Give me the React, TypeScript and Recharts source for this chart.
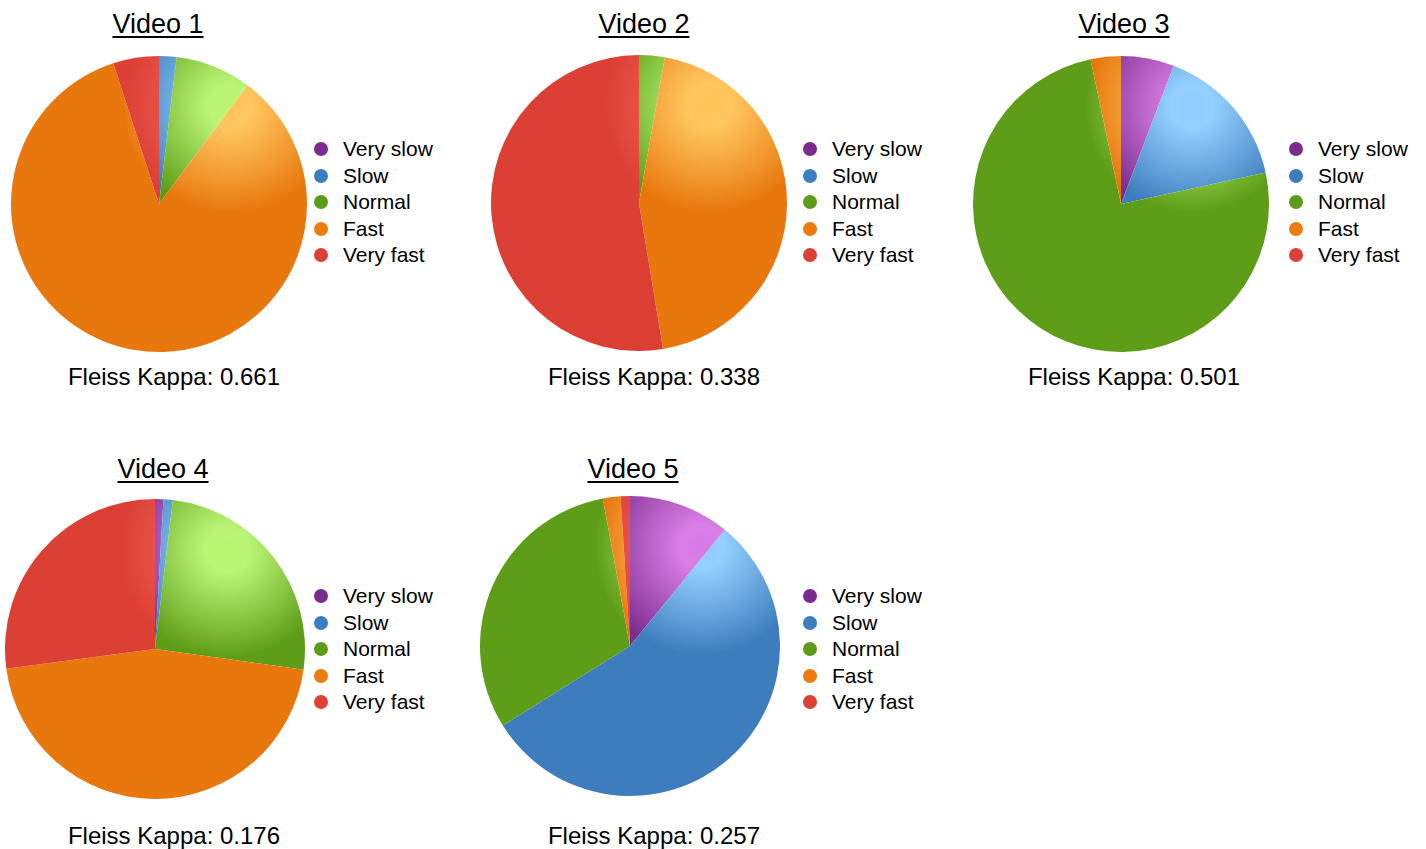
import React from 'react';
import { PieChart, Pie, Cell } from 'recharts';

// rating categories, in drawing order (clockwise from 12 o'clock)
const CATEGORIES = ['Very slow', 'Slow', 'Normal', 'Fast', 'Very fast'];

// share of ratings per category (%) for each video
const VIDEO_1 = [0, 1.9, 8.3, 84.8, 5.0];
const VIDEO_2 = [0, 0, 2.8, 44.6, 52.6];
const VIDEO_3 = [5.8, 15.8, 75.1, 3.3, 0];
const VIDEO_4 = [0.9, 1.0, 25.3, 45.7, 27.1];
const VIDEO_5 = [10.9, 55.2, 31.0, 1.9, 1.0];

const TITLES = ['Video 1', 'Video 2', 'Video 3', 'Video 4', 'Video 5'];
const KAPPAS = ['0.661', '0.338', '0.501', '0.176', '0.257'];

const SERIES = [VIDEO_1, VIDEO_2, VIDEO_3, VIDEO_4, VIDEO_5];

const BASE = ['#7D2E90', '#3D7DBD', '#5E9D18', '#E8780E', '#DC4034'];
const LIGHT = ['#D878E6', '#8ECDFF', '#B8F570', '#FFC456', '#F75E58'];
const DOT = ['#7B2A8E', '#3C7EC0', '#5C9C1A', '#EC7B10', '#DD4135'];

// page placement of each panel
const LAYOUT = [
    { cx: 159, cy: 204, r: 148, titleX: 158, titleY: 11, legX: 314, legY: 149, kapX: 174, kapY: 365 },
    { cx: 639, cy: 203, r: 148, titleX: 644, titleY: 11, legX: 803, legY: 149, kapX: 654, kapY: 365 },
    { cx: 1121, cy: 204, r: 148, titleX: 1124, titleY: 11, legX: 1289, legY: 149, kapX: 1134, kapY: 365 },
    { cx: 155, cy: 649, r: 150, titleX: 163, titleY: 456, legX: 314, legY: 596, kapX: 174, kapY: 824 },
    { cx: 630, cy: 646, r: 150, titleX: 633, titleY: 456, legX: 803, legY: 596, kapX: 654, kapY: 824 },
];

const SIZE = 320;
const FONT = '"Liberation Sans", Arial, Helvetica, sans-serif';

const Panel = ({ idx }: { idx: number }) => {
    const l = LAYOUT[idx];
    const data = CATEGORIES.map((name, i) => ({ name, value: SERIES[idx][i] }));
    const c = SIZE / 2;
    return (
        <>
            <div
                style={{
                    position: 'absolute', left: l.titleX - 100, top: l.titleY, width: 200,
                    textAlign: 'center', fontSize: 27, lineHeight: '27px', textDecoration: 'underline',
                    textUnderlineOffset: 3, textDecorationThickness: 1.5,
                }}
            >
                {TITLES[idx]}
            </div>
            <div style={{ position: 'absolute', left: l.cx - c, top: l.cy - c }}>
                <PieChart width={SIZE} height={SIZE} margin={{ top: 0, right: 0, bottom: 0, left: 0 }}>
                    <defs>
                        {CATEGORIES.map((_, i) => (
                            <radialGradient
                                key={i}
                                id={`g${idx}-${i}`}
                                gradientUnits="userSpaceOnUse"
                                cx={c + 0.48 * l.r}
                                cy={c - 0.66 * l.r}
                                r={0.72 * l.r}
                            >
                                <stop offset="0" stopColor={LIGHT[i]} />
                                <stop offset="0.2" stopColor={LIGHT[i]} stopOpacity={0.95} />
                                <stop offset="1" stopColor={BASE[i]} />
                            </radialGradient>
                        ))}
                    </defs>
                    <Pie
                        data={data}
                        dataKey="value"
                        nameKey="name"
                        cx={c}
                        cy={c}
                        outerRadius={l.r}
                        startAngle={90}
                        endAngle={-270}
                        stroke="none"
                        isAnimationActive={false}
                    >
                        {data.map((_, i) => (
                            <Cell key={i} fill={`url(#g${idx}-${i})`} />
                        ))}
                    </Pie>
                </PieChart>
            </div>
            {CATEGORIES.map((name, i) => (
                <div key={name} style={{ position: 'absolute', left: l.legX, top: l.legY + i * 26.6 - 11, height: 21 }}>
                    <span
                        style={{
                            position: 'absolute', left: 0, top: 4, width: 14, height: 14,
                            borderRadius: 7, background: DOT[i],
                        }}
                    />
                    <span style={{ position: 'absolute', left: 29, top: 0, fontSize: 21, lineHeight: '21px', whiteSpace: 'nowrap' }}>
                        {name}
                    </span>
                </div>
            ))}
            <div
                style={{
                    position: 'absolute', left: l.kapX - 150, top: l.kapY, width: 300,
                    textAlign: 'center', fontSize: 24, lineHeight: '24px',
                }}
            >
                Fleiss Kappa: {KAPPAS[idx]}
            </div>
        </>
    );
};

export default function App() {
    return (
        <div
            style={{
                position: 'absolute', left: 0, top: 0, width: 1426, height: 849,
                background: '#fff', color: '#000', fontFamily: FONT, overflow: 'hidden',
            }}
        >
            {TITLES.map((_, i) => (
                <Panel key={i} idx={i} />
            ))}
        </div>
    );
}
